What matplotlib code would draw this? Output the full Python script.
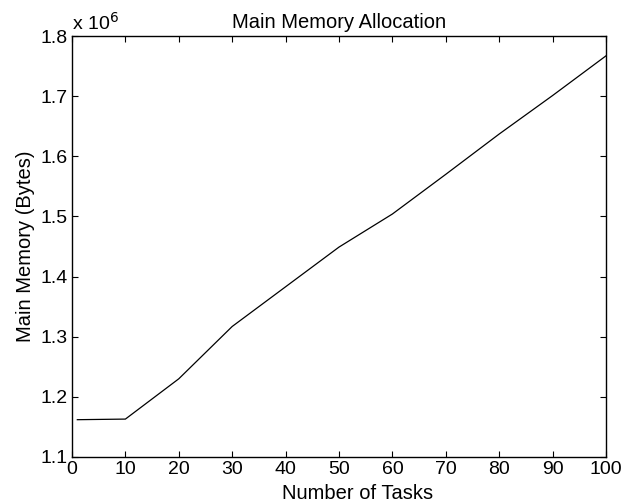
import matplotlib
matplotlib.use("Agg")
import matplotlib.pyplot as plt
from matplotlib.ticker import FuncFormatter, MultipleLocator

tasks = [1, 10, 20, 30, 40, 50, 60, 70, 80, 90, 100]
memory_bytes = [1.162e6, 1.163e6, 1.230e6, 1.317e6, 1.383e6, 1.449e6, 1.504e6, 1.570e6, 1.637e6, 1.701e6, 1.767e6]
title = "Main Memory Allocation"
xlabel = "Number of Tasks"
ylabel = "Main Memory (Bytes)"

plt.rcParams['font.family'] = ['Liberation Sans', 'DejaVu Sans']
fs = 14
lfs = 14.5

fig = plt.figure(figsize=(6.26, 5.03), dpi=100)
ax = fig.add_axes([0.115, 0.0915, 0.853, 0.8369])
ax.plot(tasks, memory_bytes, color='black', linewidth=0.9)
ax.set_xlim(0, 100)
ax.set_ylim(1.1e6, 1.8e6)
ax.xaxis.set_major_locator(MultipleLocator(10))
ax.yaxis.set_major_locator(MultipleLocator(0.1e6))
ax.yaxis.set_major_formatter(FuncFormatter(lambda v, p: f"{v/1e6:.1f}"))
ax.tick_params(direction='in', length=4, width=0.8, top=True, right=True,
               labelsize=fs, pad=3)
for s in ax.spines.values():
    s.set_linewidth(1.0)
ax.set_title(title, fontsize=lfs, pad=6)
ax.set_xlabel(xlabel, fontsize=lfs, labelpad=4, x=0.535)
ax.set_ylabel(ylabel, fontsize=lfs, labelpad=4)
ax.text(0.0, 1.005, r'x 10$^{6}$', transform=ax.transAxes, fontsize=fs,
        ha='left', va='bottom')
fig.savefig("out.png", dpi=100)
